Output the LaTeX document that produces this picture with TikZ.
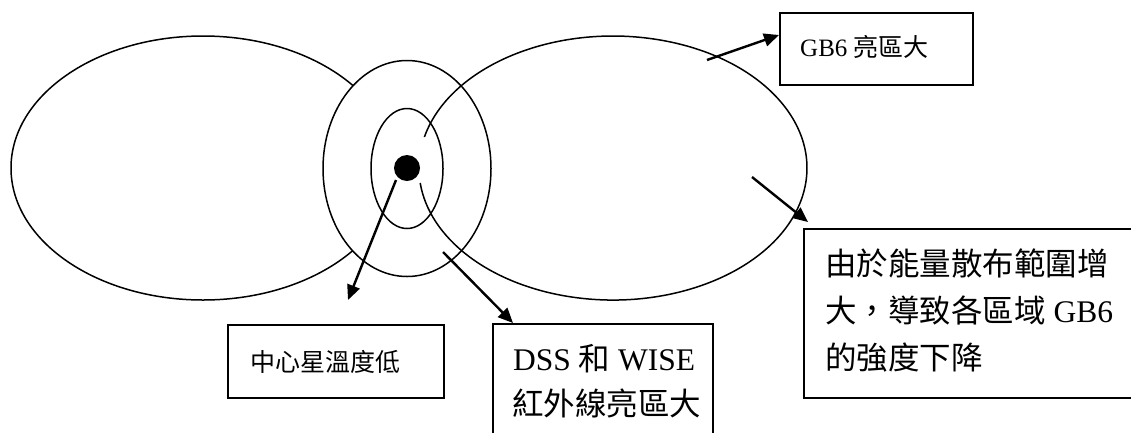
\documentclass[tikz,border=0pt]{standalone}
\usepackage{fontspec}
\setmainfont{Liberation Serif}
\newfontfamily\cjk{Noto Sans CJK TC}
\usetikzlibrary{arrows.meta,calc}
\begin{document}
\begin{tikzpicture}[x=1pt,y=-1pt,
  outline/.style={line width=1.5pt},
  pointer/.style={line width=2.4pt,-{Triangle[length=15pt,width=13pt]}},
  box/.style={draw,line width=1.5pt,rectangle,inner sep=0pt,anchor=north west},
  smalltext/.style={font=\fontsize{25}{30}\selectfont,anchor=base west,inner sep=0pt},
  bigtext/.style={font=\fontsize{31.5}{45}\selectfont,anchor=base west,inner sep=0pt}]
\path[use as bounding box,clip] (0,0) rectangle (1131,432);

% ellipses
\draw[outline] (203,168) ellipse [x radius=192, y radius=132];
\draw[outline,fill=white] (407,168.5) ellipse [x radius=84, y radius=108];
\draw[outline] (407,168.5) ellipse [x radius=36, y radius=60];
\draw[outline] (424.4,137) arc [start angle=193.6, end angle=533.5, x radius=194, y radius=132];
\node[circle,fill=black,inner sep=0pt,minimum size=26pt] (star) at (407,168) {};

% boxes
\node[box,minimum width=193pt,minimum height=72pt] (gb) at (779,12) {};
\node[box,minimum width=216pt,minimum height=73pt] (cs) at (227,324) {};
\node[box,minimum width=220pt,minimum height=140pt] (dss) at (492,323) {};
\node[box,minimum width=360pt,minimum height=169pt] (eng) at (803,228) {};

% texts
\node[smalltext] (gbt) at (800,56) {GB6 {\cjk 亮區大}};
\node[smalltext] (cst) at (250,371) {\cjk 中心星溫度低};
\node[bigtext] (dss1) at (513,370) {DSS {\cjk 和} WISE};
\node[bigtext] (dss2) at (512,415) {\cjk 紅外線亮區大};
\node[bigtext] (eng1) at (825,275) {\cjk 由於能量散布範圍增};
\node[bigtext] (eng2) at (825,322) {{\cjk 大，導致各區域} GB6};
\node[bigtext] (eng3) at (825,369) {\cjk 的強度下降};

% arrows
\coordinate (s1) at (396,180);
\coordinate (e1) at (348,300);
\coordinate (s2) at (443,252);
\coordinate (s3) at (707,60);
\coordinate (s4) at (752,177);
\coordinate (e4) at (808,222);
\draw[pointer] (s1) -- (e1);
\draw[pointer] (s2) -- ($(dss.north west)+(21,0)$);
\draw[pointer] (s3) -- ($(gb.north west)+(0,23)$);
\draw[pointer] (s4) -- (e4);
\end{tikzpicture}
\end{document}
